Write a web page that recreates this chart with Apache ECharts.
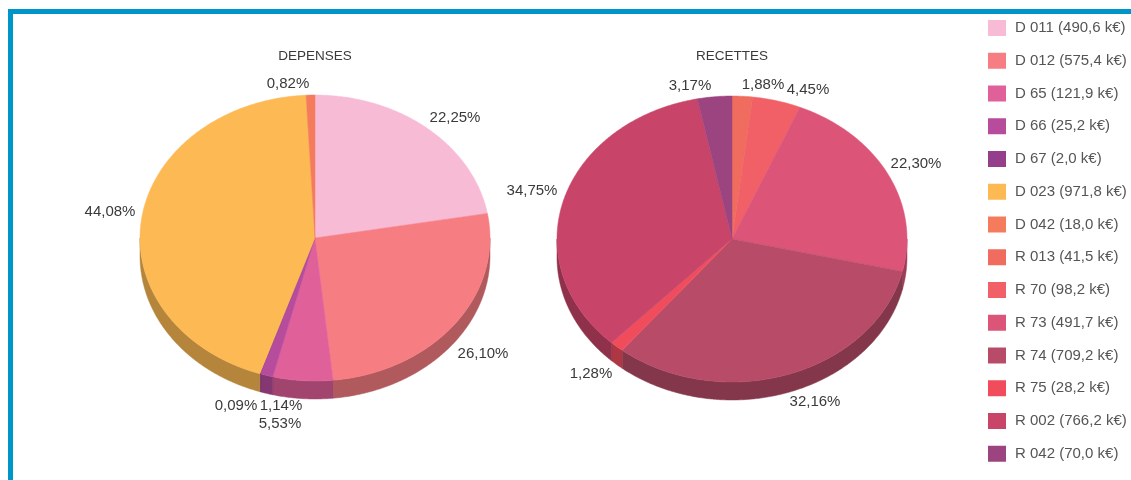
<!DOCTYPE html>
<html>
<head>
<meta charset="utf-8">
<style>
html,body{margin:0;padding:0;background:#fff;}
#chart{width:1131px;height:480px;}
</style>
<script src="https://cdn.jsdelivr.net/npm/echarts@6/dist/echarts.min.js"></script>
</head>
<body>
<div id="chart"></div>
<script>
// postes de depenses et de recettes, en k€
var depenseNames = ['D 011', 'D 012', 'D 65', 'D 66', 'D 67', 'D 023', 'D 042'];
var depenseValues = [490.6, 575.4, 121.9, 25.2, 2.0, 971.8, 18.0];
var depensePercents = ['22,25%', '26,10%', '5,53%', '1,14%', '0,09%', '44,08%', '0,82%'];
var recetteNames = ['R 013', 'R 70', 'R 73', 'R 74', 'R 75', 'R 002', 'R 042'];
var recetteValues = [41.5, 98.2, 491.7, 709.2, 28.2, 766.2, 70.0];
var recettePercents = ['1,88%', '4,45%', '22,30%', '32,16%', '1,28%', '34,75%', '3,17%'];

var depenseColors = ['#f8bbd6', '#f67d82', '#e0609a', '#b84c9c', '#953f8c', '#fdb954', '#f47c5c'];
var recetteColors = ['#f06c5e', '#f06066', '#dc5478', '#b84c68', '#f04c5c', '#c84468', '#9c4480'];

// centre des etiquettes de pourcentage
var depenseLabelPos = [[455, 118], [483, 354], [280, 424], [281, 406], [236, 406], [110, 212], [288, 84]];
var recetteLabelPos = [[763, 85], [808, 90], [916, 164], [815, 402], [591, 374], [532, 191], [690, 86]];

var RX = 175, RY = 143, DEPTH = 18;

function comma(v, n){
	return v.toFixed(n).replace('.', ',');
}

function darken(color){
	var c = echarts.color.parse(color);
	return 'rgb(' + Math.round(c[0] * 0.72) + ',' + Math.round(c[1] * 0.72) + ',' + Math.round(c[2] * 0.72) + ')';
}

function ellipsePoint(cx, cy, deg, dy){
	var a = deg * Math.PI / 180;
	return [cx + RX * Math.sin(a), cy - RY * Math.cos(a) + dy];
}

function arcPoints(cx, cy, from, to, dy){
	var pts = [];
	var steps = Math.max(2, Math.ceil((to - from) * 2));
	for(var i = 0; i <= steps; i++){
		pts.push(ellipsePoint(cx, cy, from + (to - from) * i / steps, dy));
	}
	return pts;
}

function sliceRenderer(cx, cy, labelPos, label, color){
	var side = darken(color);
	return function(params, api){
		var from = api.value(0) * 3.6;
		var to = api.value(1) * 3.6;
		var children = [];
		// bord visible seulement sur la moitie basse
		var wallFrom = Math.max(from, 90);
		var wallTo = Math.min(to, 270);
		if(wallTo > wallFrom){
			var wall = arcPoints(cx, cy, wallFrom, wallTo, 0)
				.concat(arcPoints(cx, cy, wallFrom, wallTo, DEPTH).reverse());
			children.push({
				type: 'polygon',
				shape: {points: wall},
				style: {fill: side, stroke: side, lineWidth: 0.5}
			});
		}
		children.push({
			type: 'polygon',
			shape: {points: [[cx, cy]].concat(arcPoints(cx, cy, from, to, 0))},
			style: {fill: color, stroke: color, lineWidth: 0.5}
		});
		children.push({
			type: 'text',
			z2: 10,
			x: labelPos[0],
			y: labelPos[1],
			style: {
				text: label,
				fill: '#3a3a3a',
				font: '15px "Liberation Sans"',
				align: 'center',
				verticalAlign: 'middle'
			}
		});
		return {type: 'group', children: children};
	};
}

function buildSeries(names, values, percents, colors, labelPos, cx, cy){
	var total = values.reduce(function(a, b){ return a + b; }, 0);
	var done = 0;
	return names.map(function(name, i){
		var start = done / total * 100;
		done += values[i];
		return {
			type: 'custom',
			name: name + ' (' + comma(values[i], 1) + ' k€)',
			coordinateSystem: 'none',
			silent: true,
			itemStyle: {color: colors[i]},
			renderItem: sliceRenderer(cx, cy, labelPos[i], percents[i], colors[i]),
			data: [[start, done / total * 100]]
		};
	});
}

var series = buildSeries(depenseNames, depenseValues, depensePercents, depenseColors, depenseLabelPos, 315, 238)
	.concat(buildSeries(recetteNames, recetteValues, recettePercents, recetteColors, recetteLabelPos, 732, 239));

var myChart = echarts.init(document.getElementById('chart'));
var option = {
	animation: false,
	backgroundColor: '#fff',
	textStyle: {fontFamily: 'Liberation Sans'},
	title: [
		{text: 'DEPENSES', left: 310, top: 44, textAlign: 'center', textStyle: {fontSize: 13.5, fontWeight: 'normal', color: '#3a3a3a'}},
		{text: 'RECETTES', left: 727, top: 44, textAlign: 'center', textStyle: {fontSize: 13.5, fontWeight: 'normal', color: '#3a3a3a'}}
	],
	legend: {
		orient: 'vertical',
		left: 983,
		top: 15,
		icon: 'rect',
		itemWidth: 18,
		itemHeight: 16,
		itemGap: 16.75,
		selectedMode: false,
		textStyle: {fontSize: 15, color: '#555', padding: [0, 0, 0, 4]},
		data: series.map(function(s){ return s.name; })
	},
	graphic: [
		{type: 'rect', shape: {x: 8, y: 9, width: 1123, height: 5}, style: {fill: '#0095c8'}},
		{type: 'rect', shape: {x: 8, y: 9, width: 5, height: 471}, style: {fill: '#0095c8'}}
	],
	series: series
};
myChart.setOption(option);
</script>
</body>
</html>
